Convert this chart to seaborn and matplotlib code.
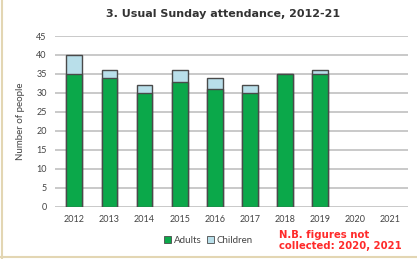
import matplotlib
matplotlib.use("Agg")
import matplotlib.pyplot as plt
import seaborn as sns
import pandas as pd
import numpy as np
from matplotlib.patches import Patch

years = ["2012", "2013", "2014", "2015", "2016", "2017", "2018", "2019", "2020", "2021"]
adults = [35, 34, 30, 33, 31, 30, 35, 35, np.nan, np.nan]
children = [5, 2, 2, 3, 3, 2, 0, 1, np.nan, np.nan]
yticks = [0, 5, 10, 15, 20, 25, 30, 35, 40, 45]

df = pd.DataFrame({"year": years, "adults": adults, "children": children})
df["total"] = df["adults"] + df["children"]

sns.set_theme(style="white")
plt.rcParams['font.family'] = ['Lato', 'DejaVu Sans']

fig = plt.figure(figsize=(4.17, 2.59), dpi=100)
ax = fig.add_axes([0.132, 0.201, 0.846, 0.66])

green = "#0ba84a"
blue = "#b9dfea"
edge = "#4a4a4a"

sns.barplot(data=df, x="year", y="total", order=years, color=blue, width=0.45,
            edgecolor=edge, linewidth=1.0, saturation=1, ax=ax, errorbar=None)
sns.barplot(data=df, x="year", y="adults", order=years, color=green, width=0.45,
            edgecolor=edge, linewidth=1.0, saturation=1, ax=ax, errorbar=None)

ax.set_ylim(0, 45)
ax.set_yticks(yticks)
ax.set_xlim(-0.55, 9.5)
ax.yaxis.grid(True, color="#c0c0c0", linewidth=1.2)
ax.set_axisbelow(True)
for s in ax.spines.values():
    s.set_visible(False)
ax.tick_params(axis="both", labelsize=6.5, colors="#444444", length=0, pad=6)
ax.set_xlabel("")
ax.set_ylabel("Number of people", fontsize=7, color="#444444", labelpad=8)

fig.text(0.535, 0.945, "3. Usual Sunday attendance, 2012-21", ha="center", va="center",
         fontsize=8, color="#333333", fontweight="bold", family="DejaVu Sans")

handles = [Patch(facecolor=green, edgecolor=edge, linewidth=0.6, label="Adults"),
           Patch(facecolor=blue, edgecolor=edge, linewidth=0.6, label="Children")]
fig.legend(handles=handles, loc="center", bbox_to_anchor=(0.50, 0.072), ncol=2,
           frameon=False, fontsize=7, handlelength=0.7, handleheight=0.7,
           handletextpad=0.3, columnspacing=0.6, labelcolor="#444444")

fig.text(0.668, 0.072, "N.B. figures not\ncollected: 2020, 2021", ha="left", va="center",
         fontsize=7.3, color="#ff2a2a", fontweight="bold", linespacing=1.05,
         family="DejaVu Sans")

# border frame
fig.add_artist(plt.Line2D([0.005, 0.005], [0.0, 1.0], color="#e3d6b3", linewidth=1.5))
fig.add_artist(plt.Line2D([0.0, 1.0], [0.006, 0.006], color="#e3d6b3", linewidth=1.5))

fig.savefig("out.png", dpi=100)
